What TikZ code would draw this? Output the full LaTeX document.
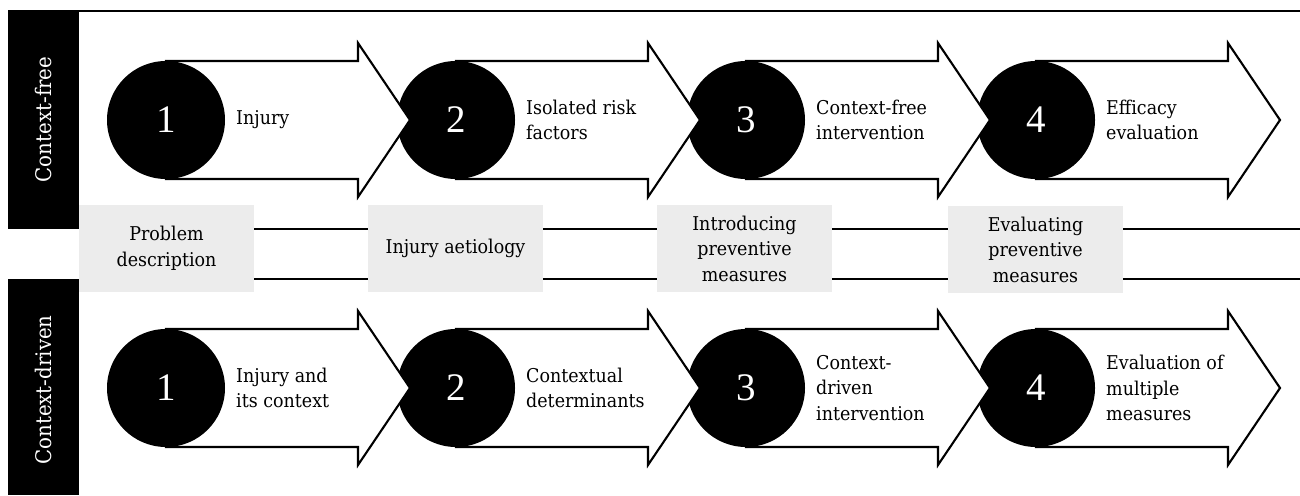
\documentclass[tikz,border=0pt]{standalone}
\usepackage{fontspec}
\setmainfont[FakeStretch=0.92]{DejaVu Serif}
\newfontfamily\digitfont{Liberation Serif}
\definecolor{boxgray}{HTML}{ECECEC}
\begin{document}
\begin{tikzpicture}[x=1pt,y=-1pt,
  stepcircle/.style={circle, fill=black, minimum size=118pt, inner sep=0pt, text=white,
    font=\digitfont\fontsize{39}{40}\selectfont},
  arrowshape/.style={draw=black, fill=white, line width=2.1pt, line join=miter},
  steptext/.style={anchor=west, align=left, inner sep=0pt, font=\fontsize{19}{25.5}\selectfont},
  phasebox/.style={fill=boxgray, minimum width=175pt, minimum height=87pt, inner sep=0pt,
    align=center, font=\fontsize{19}{25.5}\selectfont},
  sidelabel/.style={text=white, rotate=90, inner sep=0pt, font=\fontsize{21.5}{24}\selectfont},
  rule/.style={line width=2.1pt}]
\useasboundingbox (0,0) rectangle (1300,495);
% side bands
\fill[black] (8,10) rectangle (79,229);
\fill[black] (8,279) rectangle (79,495);
\node[sidelabel] (cfree) at (43.5,119.5) {Context-free};
\node[sidelabel] (cdriven) at (43.5,390) {Context-driven};
% rules
\draw[rule] (79,11) -- (1300,11);
\draw[rule] (79,229) -- (1300,229);
\draw[rule] (79,279) -- (1300,279);
% arrows and circles, drawn right to left
\foreach \cy/\r in {120/a,388/b}{
  \foreach \k/\cx in {4/1036,3/746,2/456,1/166}{
    \draw[arrowshape] (\cx,{\cy-59}) -- ({\cx+192},{\cy-59}) -- ({\cx+192},{\cy-77})
      -- ({\cx+244},\cy) -- ({\cx+192},{\cy+77}) -- ({\cx+192},{\cy+59}) -- (\cx,{\cy+59}) -- cycle;
    \node[stepcircle] (c\r\k) at (\cx,\cy) {\k};
  }
}
% step texts
\node[steptext] (ta1) at (236,120) {Injury};
\node[steptext] (ta2) at (526,120) {Isolated risk\\factors};
\node[steptext] (ta3) at (816,120) {Context-free\\intervention};
\node[steptext] (ta4) at (1106,120) {Efficacy\\evaluation};
\node[steptext] (tb1) at (236,388) {Injury and\\its context};
\node[steptext] (tb2) at (526,388) {Contextual\\determinants};
\node[steptext] (tb3) at (816,388) {Context-\\driven\\intervention};
\node[steptext] (tb4) at (1106,388) {Evaluation of\\multiple\\measures};
% phase boxes
\node[phasebox] (p1) at (166.5,248.5) {Problem\\description};
\node[phasebox] (p2) at (455.5,248.5) {Injury aetiology};
\node[phasebox] (p3) at (744.5,248.5) {Introducing\\preventive\\measures};
\node[phasebox] (p4) at (1035.5,249.5) {Evaluating\\preventive\\measures};
\end{tikzpicture}
\end{document}
